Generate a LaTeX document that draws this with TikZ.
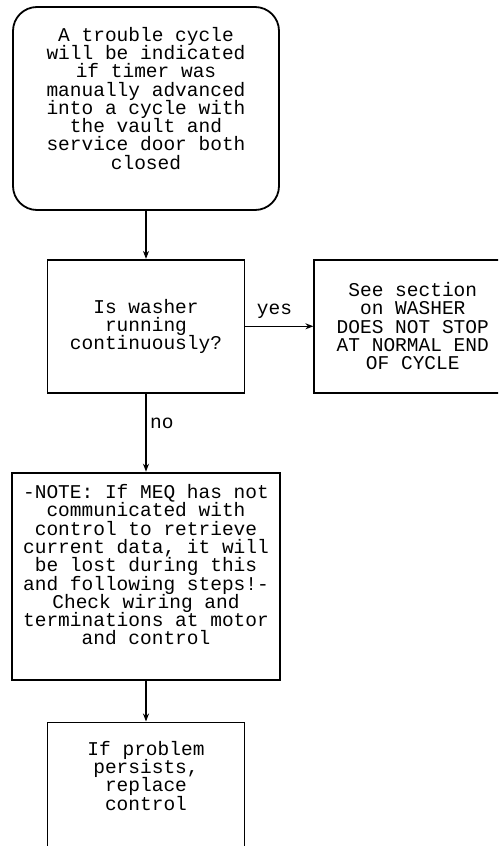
\documentclass[tikz,border=0pt]{standalone}
\usepackage{fontspec}
\newfontfamily\dotfont{Liberation Mono}
\usetikzlibrary{arrows.meta, positioning}

\begin{document}
\begin{tikzpicture}[
    x=1pt, y=1pt,
    node distance=48pt and 70pt,
    box/.style={rectangle, draw, line width=1.8pt, align=center, inner sep=0pt, font=\dotfont\fontsize{19.5}{18.3}\selectfont},
    startbox/.style={box, rounded corners=24pt, minimum width=266pt, minimum height=203pt},
    block/.style={box, minimum width=197pt, minimum height=133pt},
    arrow/.style={-{Stealth[length=8pt, width=6pt]}, line width=1.5pt},
    answer/.style={font=\dotfont\fontsize{19.5}{18.3}\selectfont}
]
\useasboundingbox (0,0) rectangle (498,-846);
\clip (0,0) rectangle (498,-846);

% Start
\node[startbox] (start) at (146,-108.5) {A trouble cycle\\will be indicated\\if timer was\\manually advanced\\into a cycle with\\the vault and\\service door both\\closed\\[2.5pt]\mbox{}};

% Question
\node[block, below=48pt of start] (running) {Is washer\\running\\continuously?};

% Yes branch
\node[block, right=68pt of running] (seesect) {See section\\on WASHER\\DOES NOT STOP\\AT NORMAL END\\OF CYCLE};

% Note
\node[box, minimum width=268pt, minimum height=207pt, below=78pt of running] (note) {-NOTE: If MEQ has not\\communicated with\\control to retrieve\\current data, it will\\be lost during this\\and following steps!-\\Check wiring and\\terminations at motor\\and control\\[4.5pt]\mbox{}};

% Last step
\node[block, minimum height=140pt, below=41pt of note] (replace) {If problem\\persists,\\replace\\control\\[15.5pt]\mbox{}};

% Arrows
\draw[arrow] (start) -- (running);
\draw[arrow] (running) -- node[answer, above, yshift=4pt, xshift=-5pt] {yes} (seesect);
\draw[arrow] (running) -- node[answer, right, pos=0.38] {no} (note);
\draw[arrow] (note) -- (replace);

\end{tikzpicture}
\end{document}
